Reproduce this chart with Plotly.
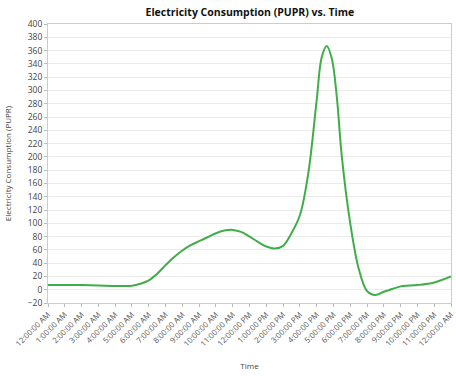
import plotly.graph_objects as go

hours = [0, 1, 2, 3, 4, 5, 5.5, 6, 6.5, 7, 7.5, 8, 8.5, 9, 9.5, 10, 10.5, 11, 11.5, 12,
         12.5, 13, 13.5, 14, 14.5, 15, 15.5, 16, 16.3, 16.6, 16.9, 17.2, 17.5, 18, 18.5,
         19, 19.5, 20, 20.5, 21, 22, 23, 24]
consumption = [7, 7, 7, 6.5, 5.5, 6, 9, 14, 24, 37, 49, 59, 67, 73, 79, 85, 89, 90, 87, 80,
               72, 65, 62, 66, 85, 112, 175, 285, 350, 367, 348, 290, 200, 100, 32,
               -2, -8, -3, 1, 5, 7, 11, 20]

tick_hours = list(range(0, 25))
tick_labels = (["12:00:00 AM"] + [f"{h}:00:00 AM" for h in range(1, 12)] +
               ["12:00:00 PM"] + [f"{h}:00:00 PM" for h in range(1, 12)] + ["12:00:00 AM"])
y_ticks = list(range(-20, 401, 20))

fig = go.Figure(go.Scatter(
    x=hours, y=consumption, mode="lines",
    line=dict(color="#3fae49", width=2, shape="spline", smoothing=1.0),
    showlegend=False, hoverinfo="skip"))

fig.update_layout(
    width=456, height=376,
    margin=dict(l=48, r=5, t=24, b=73),
    paper_bgcolor="white", plot_bgcolor="white",
    font=dict(family="Open Sans", color="#444"),
    title=dict(text="<b>Electricity Consumption (PUPR) vs. Time</b>",
               x=0.548, xanchor="center", y=0.968, yanchor="middle",
               font=dict(size=10.5, color="#111")),
)
fig.update_xaxes(
    range=[0, 24], tickvals=tick_hours, ticktext=tick_labels, tickangle=-45,
    tickfont=dict(size=7.8, color="#555"), showgrid=False, automargin=False,
    ticks="outside", ticklen=3, tickcolor="#bbb",
    showline=True, linecolor="#ccc", mirror=True, zeroline=False,
    title=dict(text="Time", font=dict(size=8, color="#444"), standoff=16),
)
fig.update_yaxes(
    range=[-20, 400], tickvals=y_ticks, tickfont=dict(size=8.5, color="#444"),
    showgrid=True, gridcolor="#ebebeb", gridwidth=1, automargin=False,
    ticks="outside", ticklen=3, tickcolor="#bbb",
    showline=True, linecolor="#ccc", mirror=True, zeroline=False,
    title=dict(text="Electricity Consumption (PUPR)", font=dict(size=8, color="#444"), standoff=14),
)

fig.write_html("out.html", config={"displayModeBar": False},
               post_script="document.body.style.margin='0';document.body.style.overflow='hidden';")
